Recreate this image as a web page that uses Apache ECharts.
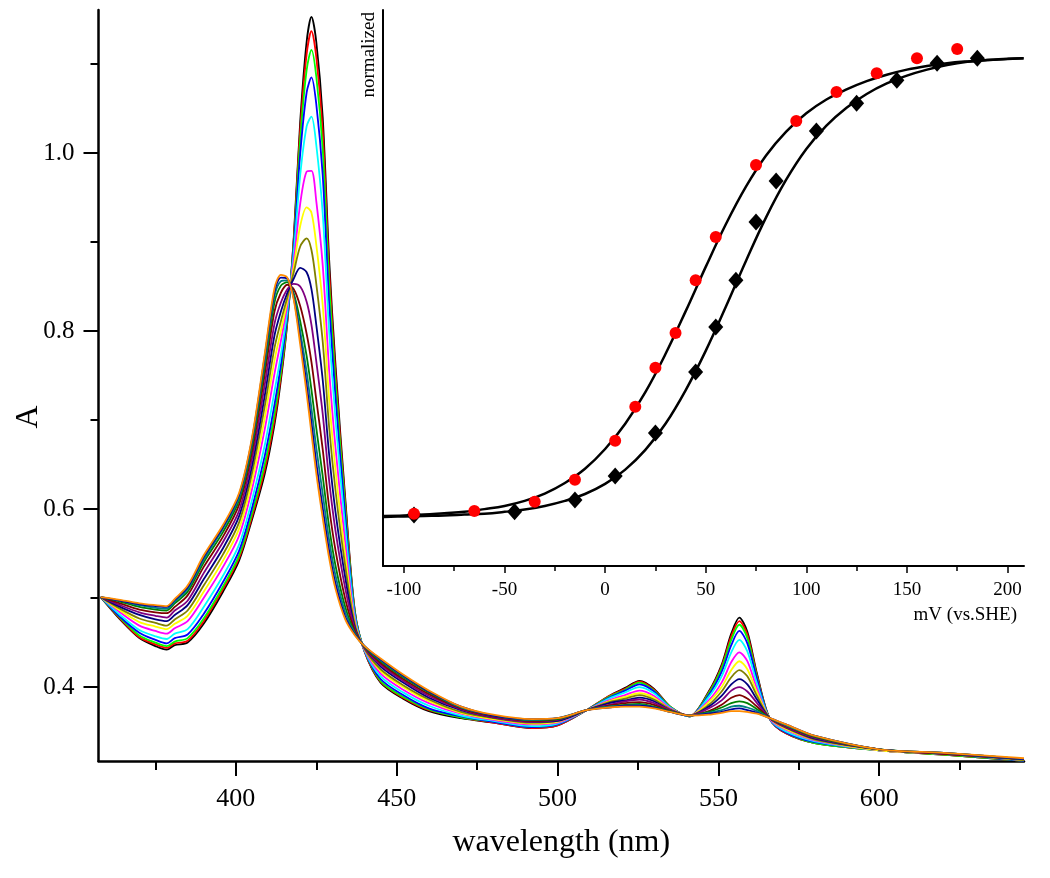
<!DOCTYPE html>
<html>
<head>
<meta charset="utf-8">
<script src="https://cdn.jsdelivr.net/npm/echarts@6/dist/echarts.min.js"></script>
<style>html,body{margin:0;padding:0;background:#fff}#c{width:1050px;height:878px}</style>
</head>
<body>
<div id="c"></div>
<script>
// ---------- main panel: spectra ----------
const wavelength = [358,364,370,375,378.5,381,385,390,396,401,405,409,412,414,416,418,420,422,423.5,425,427,429,431,434,437,440,445,452,460,470,480,492,500,509,516,521,525.5,530,535,541,547,551,554,556.5,559,562,566,571,580,600,620,645];

const spectrum00 = [0.501,0.476,0.455,0.446,0.442,0.447,0.450,0.471,0.507,0.542,0.588,0.640,0.695,0.745,0.810,0.905,1.035,1.125,1.153,1.125,1.040,0.880,0.760,0.612,0.485,0.440,0.405,0.387,0.373,0.365,0.360,0.354,0.357,0.374,0.390,0.399,0.407,0.398,0.378,0.367,0.395,0.425,0.460,0.478,0.462,0.415,0.364,0.348,0.337,0.329,0.324,0.317];
const spectrum01 = [0.501,0.477,0.456,0.448,0.444,0.449,0.452,0.474,0.510,0.545,0.591,0.645,0.700,0.749,0.812,0.903,1.026,1.111,1.137,1.108,1.024,0.868,0.751,0.607,0.484,0.440,0.406,0.388,0.374,0.366,0.360,0.354,0.357,0.374,0.390,0.398,0.406,0.397,0.378,0.367,0.394,0.423,0.457,0.474,0.459,0.413,0.364,0.348,0.337,0.329,0.324,0.317];
const spectrum02 = [0.501,0.478,0.458,0.450,0.446,0.451,0.455,0.477,0.513,0.548,0.595,0.651,0.707,0.754,0.814,0.899,1.015,1.093,1.116,1.086,1.004,0.853,0.740,0.601,0.483,0.441,0.407,0.389,0.375,0.366,0.361,0.355,0.358,0.374,0.389,0.397,0.405,0.396,0.378,0.367,0.393,0.421,0.453,0.470,0.455,0.411,0.364,0.349,0.337,0.329,0.324,0.317];
const spectrum03 = [0.501,0.479,0.461,0.453,0.449,0.455,0.459,0.482,0.518,0.553,0.601,0.660,0.717,0.762,0.817,0.895,0.999,1.068,1.085,1.055,0.975,0.831,0.724,0.592,0.481,0.441,0.409,0.391,0.376,0.367,0.361,0.355,0.358,0.374,0.388,0.396,0.403,0.395,0.377,0.367,0.391,0.417,0.447,0.463,0.449,0.409,0.364,0.349,0.338,0.329,0.325,0.317];
const spectrum04 = [0.501,0.481,0.464,0.457,0.454,0.460,0.465,0.490,0.525,0.560,0.610,0.672,0.732,0.773,0.822,0.888,0.975,1.030,1.041,1.009,0.932,0.800,0.700,0.579,0.479,0.441,0.412,0.394,0.379,0.368,0.362,0.356,0.359,0.374,0.387,0.394,0.400,0.393,0.377,0.367,0.389,0.412,0.439,0.453,0.440,0.404,0.364,0.350,0.339,0.329,0.325,0.318];
const spectrum05 = [0.501,0.484,0.469,0.463,0.460,0.466,0.474,0.500,0.535,0.570,0.622,0.690,0.752,0.789,0.829,0.879,0.943,0.979,0.980,0.946,0.874,0.756,0.668,0.562,0.475,0.442,0.415,0.397,0.382,0.370,0.363,0.358,0.360,0.374,0.385,0.391,0.396,0.390,0.376,0.368,0.385,0.405,0.428,0.439,0.429,0.398,0.364,0.352,0.340,0.329,0.325,0.318];
const spectrum06 = [0.501,0.486,0.473,0.468,0.465,0.471,0.480,0.507,0.542,0.578,0.631,0.703,0.767,0.800,0.834,0.872,0.918,0.939,0.933,0.897,0.829,0.723,0.643,0.548,0.472,0.443,0.418,0.400,0.384,0.371,0.364,0.359,0.361,0.374,0.384,0.389,0.393,0.388,0.375,0.368,0.383,0.400,0.419,0.429,0.420,0.394,0.365,0.353,0.341,0.329,0.325,0.318];
const spectrum07 = [0.501,0.488,0.477,0.472,0.469,0.476,0.486,0.514,0.549,0.585,0.640,0.716,0.781,0.811,0.838,0.866,0.895,0.904,0.891,0.853,0.788,0.692,0.620,0.536,0.470,0.443,0.420,0.402,0.386,0.372,0.365,0.360,0.362,0.374,0.383,0.387,0.391,0.386,0.375,0.368,0.380,0.395,0.411,0.419,0.412,0.390,0.365,0.354,0.341,0.330,0.325,0.318];
const spectrum08 = [0.501,0.490,0.481,0.476,0.474,0.481,0.492,0.521,0.556,0.592,0.648,0.728,0.795,0.822,0.843,0.859,0.871,0.866,0.847,0.807,0.745,0.661,0.596,0.523,0.467,0.444,0.423,0.405,0.388,0.374,0.366,0.361,0.362,0.374,0.382,0.385,0.388,0.384,0.374,0.368,0.378,0.390,0.403,0.409,0.403,0.386,0.365,0.355,0.342,0.330,0.325,0.319];
const spectrum09 = [0.501,0.492,0.484,0.480,0.478,0.486,0.497,0.528,0.563,0.598,0.656,0.740,0.808,0.832,0.847,0.853,0.850,0.833,0.807,0.766,0.707,0.632,0.575,0.511,0.465,0.444,0.425,0.407,0.390,0.375,0.366,0.361,0.363,0.374,0.380,0.384,0.386,0.382,0.374,0.368,0.376,0.385,0.396,0.400,0.395,0.382,0.365,0.355,0.343,0.330,0.325,0.319];
const spectrum10 = [0.501,0.494,0.487,0.484,0.483,0.490,0.503,0.535,0.569,0.605,0.664,0.752,0.822,0.843,0.852,0.847,0.828,0.797,0.765,0.723,0.667,0.602,0.553,0.499,0.463,0.445,0.427,0.409,0.392,0.376,0.367,0.362,0.364,0.374,0.379,0.382,0.383,0.380,0.373,0.368,0.373,0.380,0.388,0.391,0.387,0.378,0.365,0.356,0.344,0.330,0.325,0.319];
const spectrum11 = [0.501,0.496,0.490,0.487,0.486,0.494,0.507,0.540,0.574,0.610,0.670,0.761,0.832,0.851,0.855,0.842,0.811,0.772,0.734,0.691,0.637,0.580,0.536,0.490,0.461,0.445,0.429,0.411,0.394,0.377,0.368,0.363,0.364,0.374,0.378,0.380,0.381,0.378,0.373,0.368,0.372,0.377,0.382,0.384,0.382,0.375,0.365,0.357,0.344,0.330,0.326,0.319];
const spectrum12 = [0.501,0.497,0.492,0.489,0.488,0.496,0.510,0.543,0.578,0.613,0.675,0.767,0.839,0.856,0.857,0.839,0.800,0.754,0.713,0.669,0.617,0.565,0.525,0.484,0.460,0.446,0.430,0.412,0.395,0.377,0.368,0.363,0.365,0.374,0.378,0.379,0.380,0.377,0.372,0.368,0.371,0.374,0.378,0.379,0.377,0.373,0.365,0.357,0.345,0.330,0.326,0.319];
const spectrum13 = [0.501,0.497,0.493,0.491,0.490,0.498,0.512,0.546,0.580,0.616,0.678,0.772,0.844,0.860,0.859,0.837,0.791,0.740,0.697,0.652,0.601,0.553,0.516,0.479,0.459,0.446,0.431,0.413,0.395,0.378,0.368,0.364,0.365,0.374,0.377,0.379,0.379,0.377,0.372,0.368,0.370,0.372,0.375,0.376,0.374,0.371,0.365,0.358,0.345,0.330,0.326,0.319];
const spectrum14 = [0.501,0.498,0.494,0.492,0.491,0.499,0.514,0.548,0.582,0.618,0.680,0.775,0.848,0.863,0.860,0.835,0.785,0.730,0.685,0.640,0.590,0.545,0.510,0.476,0.458,0.446,0.432,0.414,0.396,0.378,0.369,0.364,0.365,0.374,0.377,0.378,0.378,0.376,0.372,0.368,0.369,0.371,0.373,0.373,0.372,0.370,0.365,0.358,0.345,0.330,0.326,0.320];

const spectra = [spectrum00,spectrum01,spectrum02,spectrum03,spectrum04,spectrum05,spectrum06,spectrum07,spectrum08,spectrum09,spectrum10,spectrum11,spectrum12,spectrum13,spectrum14];
const spectrumColors = ['#000000','#FF0000','#00FF00','#0000FF','#00FFFF','#FF00FF','#FFFF00','#808000','#000080','#800080','#800000','#008000','#008080','#0000A0','#FF8C00'];

const xTicksMain = [400,450,500,550,600];
const xMinorMain = [375,425,475,525,575,625];
const yTicksMain = [0.4,0.6,0.8,1.0];
const yMinorMain = [0.5,0.7,0.9,1.1];

// ---------- inset: titration ----------
const insetXTicks = [-100,-50,0,50,100,150,200];
const insetXMinor = [-75,-25,25,75,125,175];

const redPotential   = [-95,-65,-35,-15,5,15,25,35,45,55,75,95,115,135,155,175];
const redNormalized  = [0.007,0.013,0.033,0.081,0.166,0.240,0.325,0.401,0.516,0.610,0.767,0.863,0.926,0.967,1.000,1.020];
const blackPotential  = [-95,-45,-15,5,25,45,55,65,75,85,105,125,145,165,185];
const blackNormalized = [0.004,0.011,0.037,0.089,0.183,0.316,0.414,0.516,0.643,0.732,0.841,0.902,0.952,0.989,1.000];

const fitPotential = [-110,-100,-90,-80,-70,-60,-50,-40,-30,-20,-10,0,10,20,30,40,50,60,70,80,90,100,110,120,130,140,150,160,170,180,190,200,208];
const redFit   = [0.002,0.003,0.005,0.008,0.011,0.017,0.024,0.035,0.051,0.074,0.105,0.148,0.203,0.272,0.355,0.448,0.545,0.638,0.720,0.788,0.840,0.880,0.910,0.932,0.950,0.964,0.975,0.983,0.989,0.993,0.996,0.998,1.000];
const blackFit = [0.000,0.001,0.002,0.003,0.005,0.007,0.011,0.016,0.024,0.035,0.050,0.072,0.103,0.146,0.203,0.276,0.362,0.458,0.558,0.653,0.735,0.802,0.853,0.892,0.922,0.945,0.962,0.975,0.985,0.992,0.996,0.999,1.000];

const FONT = 'Liberation Serif';
const chart = echarts.init(document.getElementById('c'), null, {renderer: 'canvas'});

const spectraSeries = spectra.map((s, i) => ({
  type: 'line', xAxisIndex: 0, yAxisIndex: 0,
  data: wavelength.map((w, j) => [w, s[j]]),
  symbol: 'none', showSymbol: false, smooth: 0.3, silent: true,
  lineStyle: {color: spectrumColors[i], width: 1.8},
  itemStyle: {color: spectrumColors[i]},
  z: 2
}));

const option = {
  animation: false,
  backgroundColor: '#ffffff',
  grid: [
    {left: 98.5, top: 10, width: 925.5, height: 751, containLabel: false, outerBoundsMode: 'none'},
    {left: 383, top: 10, width: 641, height: 556, containLabel: false, outerBoundsMode: 'none'}
  ],
  xAxis: [
    {gridIndex: 0, type: 'value', min: 357.3, max: 645, position: 'bottom',
     axisLine: {show: true, onZero: false, lineStyle: {color: '#000', width: 2.5}},
     axisTick: {show: true, customValues: xTicksMain, length: 15, lineStyle: {color: '#000', width: 2}},
     axisLabel: {show: true, customValues: xTicksMain, color: '#000', fontFamily: FONT, fontSize: 26, margin: 25},
     splitLine: {show: false},
     name: 'wavelength (nm)', nameLocation: 'middle', nameGap: 66,
     nameTextStyle: {fontFamily: FONT, fontSize: 32, color: '#000'}},
    {gridIndex: 0, type: 'value', min: 357.3, max: 645, position: 'bottom',
     axisLine: {show: false, onZero: false},
     axisTick: {show: true, customValues: xMinorMain, length: 9, lineStyle: {color: '#000', width: 2}},
     axisLabel: {show: false}, splitLine: {show: false}},
    {gridIndex: 1, type: 'value', min: -110.4, max: 208.2, position: 'bottom',
     axisLine: {show: true, onZero: false, lineStyle: {color: '#000', width: 2}},
     axisTick: {show: true, customValues: insetXTicks, length: 7, lineStyle: {color: '#000', width: 1.5}},
     axisLabel: {show: true, customValues: insetXTicks, color: '#000', fontFamily: FONT, fontSize: 19, margin: 15},
     splitLine: {show: false}},
    {gridIndex: 1, type: 'value', min: -110.4, max: 208.2, position: 'bottom',
     axisLine: {show: false, onZero: false},
     axisTick: {show: true, customValues: insetXMinor, length: 5, lineStyle: {color: '#000', width: 1.5}},
     axisLabel: {show: false}, splitLine: {show: false}}
  ],
  yAxis: [
    {gridIndex: 0, type: 'value', min: 0.3169, max: 1.1607, position: 'left',
     axisLine: {show: true, onZero: false, lineStyle: {color: '#000', width: 2.5}},
     axisTick: {show: true, customValues: yTicksMain, length: 15, lineStyle: {color: '#000', width: 2}},
     axisLabel: {show: true, customValues: yTicksMain, formatter: v => Number(v).toFixed(1),
                 color: '#000', fontFamily: FONT, fontSize: 25, margin: 24},
     splitLine: {show: false}},
    {gridIndex: 0, type: 'value', min: 0.3169, max: 1.1607, position: 'left',
     axisLine: {show: false, onZero: false},
     axisTick: {show: true, customValues: yMinorMain, length: 8, lineStyle: {color: '#000', width: 2}},
     axisLabel: {show: false}, splitLine: {show: false}},
    {gridIndex: 1, type: 'value', min: -0.107, max: 1.105, position: 'left',
     axisLine: {show: true, onZero: false, lineStyle: {color: '#000', width: 2}},
     axisTick: {show: false}, axisLabel: {show: false}, splitLine: {show: false}}
  ],
  graphic: [
    {type: 'text', x: 29, y: 417, rotation: Math.PI / 2,
     style: {text: 'A', fontFamily: FONT, fontSize: 32, fill: '#000', align: 'center', verticalAlign: 'middle'}},
    {type: 'text', x: 379, y: 12, rotation: Math.PI / 2,
     style: {text: 'normalized', fontFamily: FONT, fontSize: 19, fill: '#000', align: 'right', verticalAlign: 'bottom'}},
    {type: 'text', x: 1017, y: 615,
     style: {text: 'mV (vs.SHE)', fontFamily: FONT, fontSize: 19, fill: '#000', align: 'right', verticalAlign: 'middle'}}
  ],
  series: spectraSeries.concat([
    {type: 'line', xAxisIndex: 2, yAxisIndex: 2, data: fitPotential.map((x, j) => [x, redFit[j]]),
     symbol: 'none', smooth: 0.4, lineStyle: {color: '#000', width: 2.5}, z: 3, silent: true},
    {type: 'line', xAxisIndex: 2, yAxisIndex: 2, data: fitPotential.map((x, j) => [x, blackFit[j]]),
     symbol: 'none', smooth: 0.4, lineStyle: {color: '#000', width: 2.5}, z: 3, silent: true},
    {type: 'scatter', xAxisIndex: 2, yAxisIndex: 2, data: blackPotential.map((x, j) => [x, blackNormalized[j]]),
     symbol: 'diamond', symbolSize: [15, 17], itemStyle: {color: '#000000', opacity: 1}, z: 5, silent: true},
    {type: 'scatter', xAxisIndex: 2, yAxisIndex: 2, data: redPotential.map((x, j) => [x, redNormalized[j]]),
     symbol: 'circle', symbolSize: 12, itemStyle: {color: '#FF0000', opacity: 1}, z: 6, silent: true}
  ])
};
chart.setOption(option);
</script>
</body>
</html>
